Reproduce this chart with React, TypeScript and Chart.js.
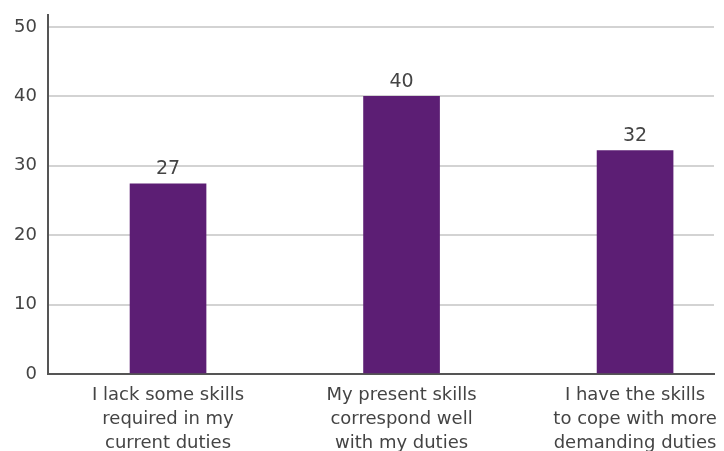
import React, { useEffect, useRef } from "react";
import { Chart, registerables } from "chart.js";

Chart.register(...registerables);

const categories: string[][] = [
  ["I lack some skills", "required in my", "current duties"],
  ["My present skills", "correspond well", "with my duties"],
  ["I have the skills", "to cope with more", "demanding duties"],
];
const values: number[] = [27.4, 40.0, 32.2];
const valueLabels: string[] = ["27", "40", "32"];
const yTicks: number[] = [0, 10, 20, 30, 40, 50];

const FONT = "'DejaVu Sans', sans-serif";
const TEXT = "#444444";
const BAR = "#5c1e74";

const W = 724;
const H = 480;

const labelPlugin = {
  id: "valueLabels",
  afterDatasetsDraw(chart: any) {
    const ctx = chart.ctx;
    const meta = chart.getDatasetMeta(0);
    ctx.save();
    ctx.font = `19px ${FONT}`;
    ctx.fillStyle = TEXT;
    ctx.textAlign = "center";
    ctx.textBaseline = "bottom";
    meta.data.forEach((bar: any, i: number) => {
      ctx.fillText(valueLabels[i], bar.x, bar.y - 5);
    });
    ctx.restore();
  },
};

export default function App() {
  const ref = useRef<HTMLCanvasElement | null>(null);
  useEffect(() => {
    if (!ref.current) return;
    const chart = new Chart(ref.current, {
      type: "bar",
      data: {
        datasets: [
          {
            data: values.map((v, i) => ({ x: i, y: v })),
            backgroundColor: BAR,
            barThickness: 76,
          },
        ],
      },
      options: {
        animation: false,
        responsive: false,
        events: [],
        layout: { padding: { top: 15, right: 10, left: 0, bottom: 0 } },
        plugins: { legend: { display: false }, tooltip: { enabled: false } },
        scales: {
          x: {
            type: "linear",
            min: -0.514,
            max: 2.338,
            offset: false,
            bounds: "ticks",
            afterBuildTicks: (scale: any) => {
              scale.ticks = categories.map((_, i) => ({ value: i }));
            },
            afterFit: (scale: any) => {
              scale.height = H - 374;
              scale.paddingLeft = 0;
              scale.paddingRight = 0;
            },
            grid: { display: false, drawTicks: false },
            border: { display: true, color: "#555555", width: 2 },
            ticks: {
              padding: 9,
              color: TEXT,
              font: { family: FONT, size: 18, lineHeight: 1.33 },
              maxRotation: 0,
              autoSkip: false,
              callback: (v: any) => categories[Number(v)] ?? "",
            },
          },
          y: {
            min: 0,
            max: 51.73,
            afterBuildTicks: (scale: any) => {
              scale.ticks = yTicks.map((v) => ({ value: v }));
            },
            afterFit: (scale: any) => {
              scale.width = 48;
              scale.paddingTop = 0;
              scale.paddingBottom = 0;
            },
            grid: { color: "#d3d3d3", lineWidth: 2, drawTicks: false },
            border: { display: true, color: "#555555", width: 2 },
            ticks: {
              padding: 11,
              color: TEXT,
              font: { family: FONT, size: 18 },
            },
          },
        },
      },
      plugins: [labelPlugin],
    });
    return () => chart.destroy();
  }, []);
  return (
    <div style={{ position: "fixed", left: 0, top: 0, width: W, height: 451, overflow: "hidden", background: "#fff" }}>
      <canvas ref={ref} width={W} height={H} style={{ display: "block", width: W, height: H }} />
    </div>
  );
}
